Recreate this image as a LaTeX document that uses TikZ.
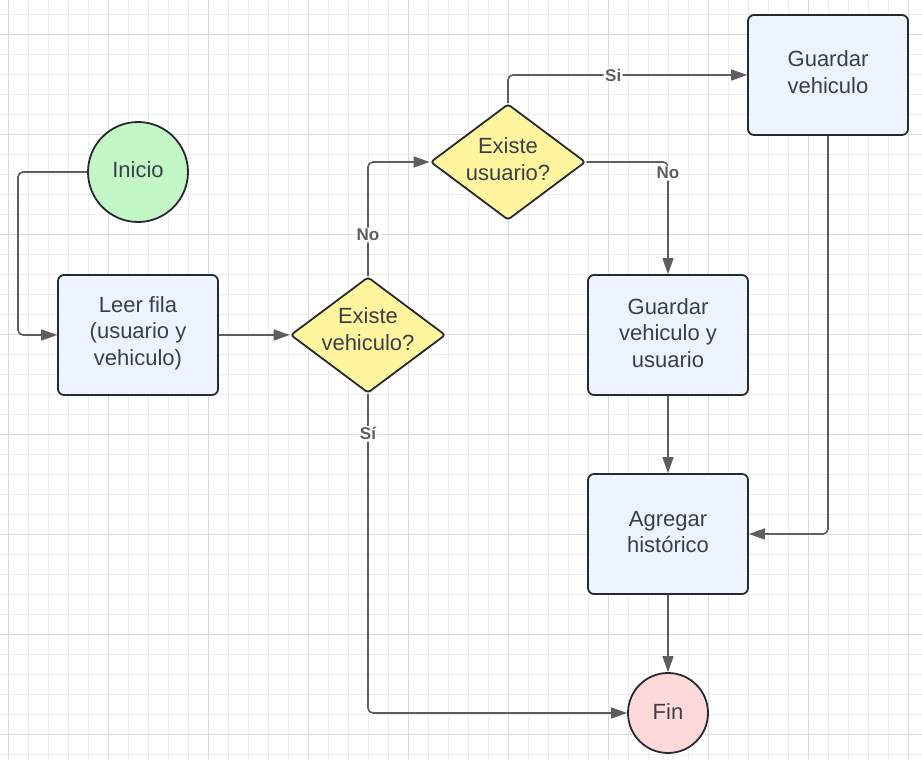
\documentclass[tikz,border=0pt]{standalone}
\usepackage{fontspec}
\setmainfont{Liberation Sans}
\usetikzlibrary{shapes.geometric,arrows.meta}
\definecolor{gridminor}{HTML}{EDEDED}
\definecolor{gridmajor}{HTML}{DCDCDC}
\definecolor{edgecol}{HTML}{5E5E5E}
\definecolor{bordercol}{HTML}{262A30}
\definecolor{txtcol}{HTML}{3A4048}
\definecolor{boxfill}{HTML}{EDF4FF}
\definecolor{diafill}{HTML}{FFF59E}
\definecolor{startfill}{HTML}{C3F7C8}
\definecolor{endfill}{HTML}{FFD9D9}
\begin{document}
\begin{tikzpicture}[x=1pt,y=-1pt,
  maintext/.style={text=txtcol, font=\fontsize{22}{26.5}\selectfont, align=center},
  procbox/.style={draw=bordercol, line width=1.8pt, fill=boxfill, rounded corners=6pt,
    minimum width=160pt, minimum height=120pt, inner sep=0pt},
  diabox/.style={draw=bordercol, line width=1.8pt, fill=diafill, diamond, rounded corners=3pt,
    minimum width=155pt, minimum height=116pt, inner sep=0pt},
  termnode/.style={draw=bordercol, line width=1.8pt, circle, inner sep=0pt},
  conn/.style={draw=edgecol, line width=1.6pt, rounded corners=5pt,
    -{Triangle[length=16pt,width=11pt]}},
  lbl/.style={fill=white, inner sep=1.5pt, text=edgecol, font=\bfseries\fontsize{17}{17}\selectfont}
]
\useasboundingbox (0,0) rectangle (922,760);
\fill[white] (0,0) rectangle (922,760);
% grid
\foreach \x in {8,28,...,920} \draw[gridminor, line width=0.8pt] (\x,0) -- (\x,760);
\foreach \y in {14,34,...,760} \draw[gridminor, line width=0.8pt] (0,\y) -- (922,\y);
\foreach \x in {8,108,...,920} \draw[gridmajor, line width=0.9pt] (\x,0) -- (\x,760);
\foreach \y in {34,134,...,760} \draw[gridmajor, line width=0.9pt] (0,\y) -- (922,\y);

% shapes
\node[termnode, fill=startfill, minimum size=100pt] (inicio) at (138,172) {};
\node[procbox] (leer) at (138,335) {};
\node[diabox] (veh) at (368,335) {};
\node[diabox] (usu) at (508,162) {};
\node[procbox] (gv) at (828,75) {};
\node[procbox] (gvu) at (668,335) {};
\node[procbox] (ag) at (668,534) {};
\node[termnode, fill=endfill, minimum size=80pt] (fin) at (668,713) {};

% texts
\node[maintext] (inicioT) at (138,170) {Inicio};
\node[maintext] (leerT) at (138,333) {Leer fila\\(usuario y\\vehiculo)};
\node[maintext] (vehT) at (368,329) {Existe\\vehiculo?};
\node[maintext] (usuT) at (508,159) {Existe\\usuario?};
\node[maintext] (gvT) at (828,72) {Guardar\\vehiculo};
\node[maintext] (gvuT) at (668,333) {Guardar\\vehiculo y\\usuario};
\node[maintext] (agT) at (668,532) {Agregar\\histórico};
\node[maintext] (finT) at (668,712) {Fin};

\coordinate (lx) at (18,172);

% connectors
\draw[conn] (inicio.west) -- (lx) |- (leer.west);
\draw[conn] (leer.east) -- (veh.west);
\draw[conn] (veh.north) |- node[lbl, pos=0.18] {No} (usu.west);
\draw[conn] (usu.north) |- node[lbl, pos=0.72] {Si} (gv.west);
\draw[conn] (usu.east) -| node[lbl, pos=0.55] {No} (gvu.north);
\draw[conn] (gv.south) |- (ag.east);
\draw[conn] (gvu.south) -- (ag.north);
\draw[conn] (ag.south) -- (fin.north);
\draw[conn] (veh.south) |- node[lbl, pos=0.0625] {Sí} (fin.west);
\end{tikzpicture}
\end{document}
